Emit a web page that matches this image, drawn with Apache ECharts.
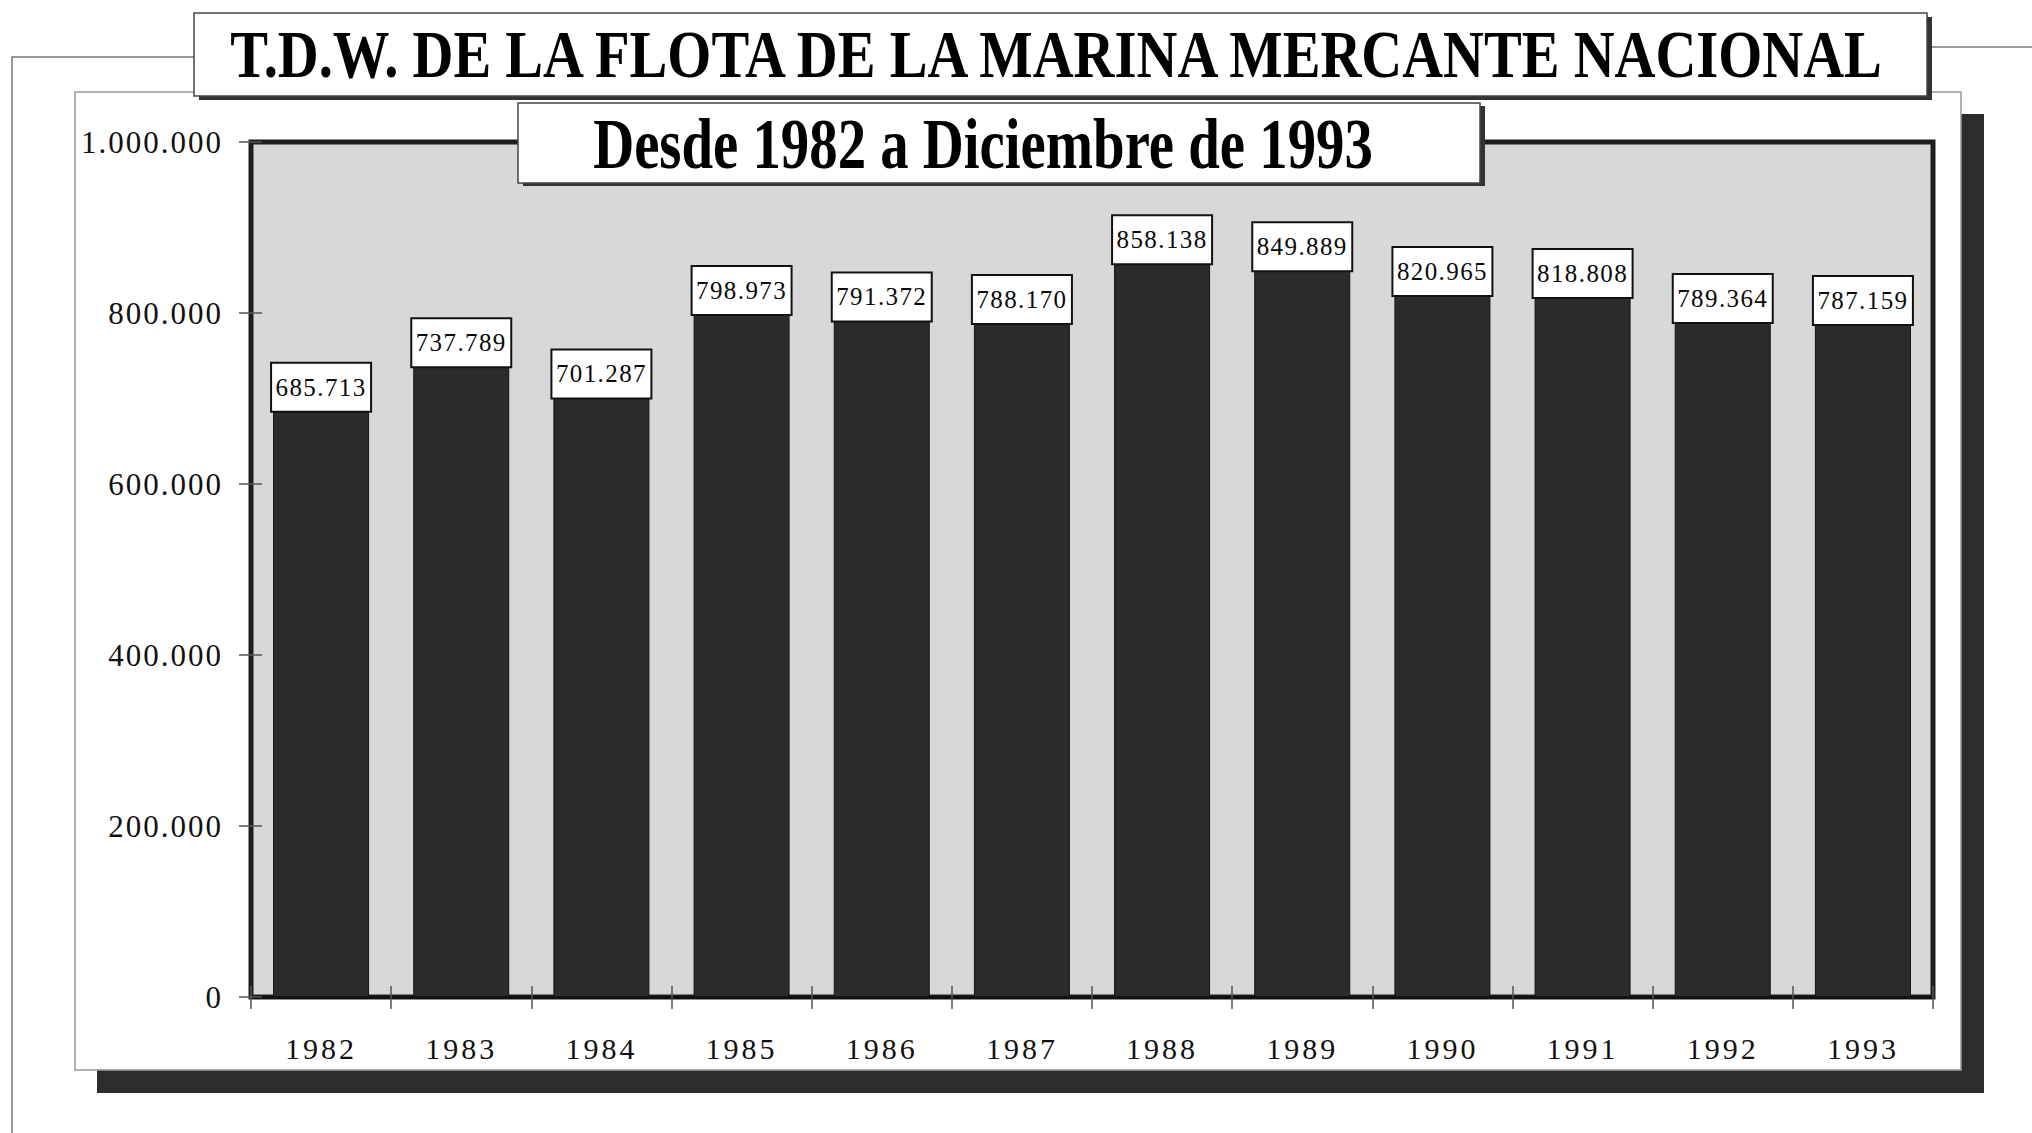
<!DOCTYPE html>
<html>
<head>
<meta charset="utf-8">
<script src="https://cdn.jsdelivr.net/npm/echarts@6.0.0/dist/echarts.min.js"></script>
<style>
html,body{margin:0;padding:0;background:#ffffff;}
#chart{width:2032px;height:1133px;}
#chart text[style*="31px"]{letter-spacing:2px;}
#chart text[style*="30px"]{letter-spacing:3px;}
#chart text[style*="25px"]{letter-spacing:1.4px;}
</style>
</head>
<body>
<div id="chart"></div>
<script>
// ---- data ----
const categories = ['1982','1983','1984','1985','1986','1987','1988','1989','1990','1991','1992','1993'];
const tdwValues = [685713, 737789, 701287, 798973, 791372, 788170, 858138, 849889, 820965, 818808, 789364, 787159];
const yAxisMin = 0;
const yAxisMax = 1000000;
const yAxisStep = 200000;
const titleText = 'T.D.W. DE LA FLOTA DE LA MARINA MERCANTE NACIONAL';
const subtitleText = 'Desde 1982 a Diciembre de 1993';

function fmtThousands(v) {
  return String(Math.round(v)).replace(/\B(?=(\d{3})+(?!\d))/g, '.');
}

const FONT = "'Liberation Serif', 'Times New Roman', serif";
const chart = echarts.init(document.getElementById('chart'), null, { renderer: 'svg' });

const option = {
  backgroundColor: '#ffffff',
  animation: false,
  grid: {
    left: 251, right: 99, top: 142, bottom: 136,
    show: true,
    backgroundColor: '#d8d8d8',
    borderColor: '#1e1e1e',
    borderWidth: 5
  },
  xAxis: [{
    type: 'category',
    data: categories,
    position: 'bottom',
    boundaryGap: true,
    axisLine: { show: true, lineStyle: { color: '#111', width: 3 } },
    axisTick: { show: true, interval: 0, length: 12, lineStyle: { color: '#555', width: 1.5 } },
    axisLabel: { fontFamily: FONT, fontSize: 30, color: '#111', margin: 36, interval: 0 },
    splitLine: { show: false }
  }, {
    type: 'category',
    data: categories,
    position: 'bottom',
    boundaryGap: true,
    axisLine: { show: false },
    axisTick: { show: true, inside: true, interval: 0, length: 11, lineStyle: { color: '#555', width: 1.5 } },
    axisLabel: { show: false },
    splitLine: { show: false }
  }],
  yAxis: [{
    type: 'value',
    position: 'left',
    min: yAxisMin, max: yAxisMax, interval: yAxisStep,
    axisLine: { show: false },
    axisTick: { show: true, length: 12, lineStyle: { color: '#555', width: 1.5 } },
    axisLabel: { fontFamily: FONT, fontSize: 31, color: '#111', margin: 28, formatter: v => fmtThousands(v) },
    splitLine: { show: false }
  }, {
    type: 'value',
    position: 'left',
    min: yAxisMin, max: yAxisMax, interval: yAxisStep,
    axisLine: { show: false },
    axisTick: { show: true, inside: true, length: 11, lineStyle: { color: '#555', width: 1.5 } },
    axisLabel: { show: false },
    splitLine: { show: false }
  }],
  series: [{
    type: 'bar',
    xAxisIndex: 0,
    yAxisIndex: 0,
    data: tdwValues,
    barWidth: '68.5%',
    itemStyle: { color: '#2b2b2b', borderColor: '#151515', borderWidth: 1 },
    label: {
      show: true,
      position: 'top',
      distance: 0,
      formatter: p => fmtThousands(p.value),
      fontFamily: FONT,
      fontSize: 25,
      lineHeight: 25,
      color: '#0a0a0a',
      backgroundColor: '#ffffff',
      borderColor: '#111',
      borderWidth: 2,
      padding: [11, 5],
      width: 88,
      align: 'center'
    },
    z: 3
  }],
  graphic: [
    // page frame lines
    { type: 'polyline', z: -20, shape: { points: [[194, 57], [12, 57], [12, 1133]] }, style: { stroke: '#777', lineWidth: 1.5, fill: null } },
    { type: 'line', z: -20, shape: { x1: 1927, y1: 47, x2: 2032, y2: 47 }, style: { stroke: '#777', lineWidth: 1.5 } },
    // panel shadow and panel
    { type: 'rect', z: -15, shape: { x: 97, y: 114, width: 1887, height: 979 }, style: { fill: '#2c2c2c' } },
    { type: 'rect', z: -14, shape: { x: 75, y: 92, width: 1886, height: 978 }, style: { fill: '#ffffff', stroke: '#999', lineWidth: 1.5 } },
    // title box
    { type: 'rect', z: 100, shape: { x: 199, y: 17, width: 1733, height: 83 }, style: { fill: '#333' } },
    { type: 'rect', z: 101, shape: { x: 194, y: 13, width: 1733, height: 83 }, style: { fill: '#ffffff', stroke: '#444', lineWidth: 1.5 } },
    { type: 'text', z: 102, x: 1056, y: 54, scaleX: 0.845, style: {
        text: titleText, x: 0, y: 0, fill: '#000',
        fontFamily: FONT, fontSize: 67, fontWeight: 'bold',
        textAlign: 'center', textVerticalAlign: 'middle', align: 'center', verticalAlign: 'middle' } },
    // subtitle box
    { type: 'rect', z: 100, shape: { x: 523, y: 106, width: 962, height: 80 }, style: { fill: '#333' } },
    { type: 'rect', z: 101, shape: { x: 518, y: 103, width: 962, height: 80 }, style: { fill: '#ffffff', stroke: '#444', lineWidth: 1.5 } },
    { type: 'text', z: 102, x: 983, y: 144, scaleX: 0.8, style: {
        text: subtitleText, x: 0, y: 0, fill: '#000',
        fontFamily: FONT, fontSize: 71, fontWeight: 'bold',
        textAlign: 'center', textVerticalAlign: 'middle', align: 'center', verticalAlign: 'middle' } }
  ]
};
chart.setOption(option);
</script>
</body>
</html>
